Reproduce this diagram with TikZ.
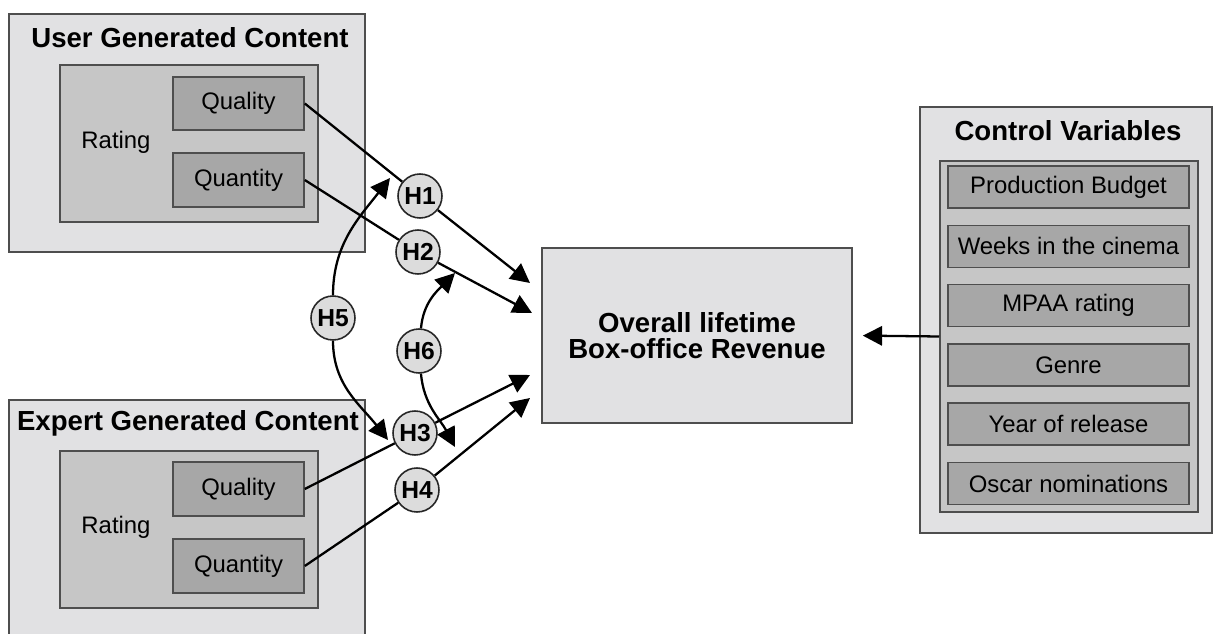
\documentclass[tikz,border=0pt]{standalone}
\usepackage{fontspec}
\setmainfont{Liberation Sans}
\usetikzlibrary{arrows.meta, positioning}

\definecolor{boxlight}{HTML}{E1E1E3}
\definecolor{boxmid}{HTML}{C6C6C6}
\definecolor{boxdark}{HTML}{A7A7A7}
\definecolor{edgegray}{HTML}{4E4E4E}
\definecolor{hypofill}{HTML}{DCDCDC}

\begin{document}
\begin{tikzpicture}[
  x=0.02cm, y=0.02cm,
  outer/.style={rectangle, draw=edgegray, line width=0.9pt, fill=boxlight, inner sep=0pt},
  inner/.style={rectangle, draw=edgegray, line width=0.9pt, fill=boxmid, inner sep=0pt},
  item/.style={rectangle, draw=edgegray, line width=0.9pt, fill=boxdark, inner sep=0pt, font=\fontsize{13.6}{16}\selectfont},
  heading/.style={font=\fontsize{15.7}{15}\selectfont\bfseries, inner sep=0pt},
  plain/.style={font=\fontsize{13.6}{16}\selectfont, inner sep=0pt},
  hypo/.style={circle, draw=black!85, line width=0.9pt, fill=hypofill, minimum size=0.88cm, inner sep=0pt, font=\fontsize{14}{16}\selectfont\bfseries},
  link/.style={line width=1.3pt},
  >={Triangle[length=11pt, width=11pt]}
]
  \clip (0,0) rectangle (1214,-634);

  % user generated content
  \node[outer, minimum width=7.12cm, minimum height=4.76cm] (ugc) at (187,-133) {};
  \node[heading] (ugctitle) at (190,-38) {User Generated Content};
  \node[inner, minimum width=5.16cm, minimum height=3.14cm] (ugcrate) at (189,-143.5) {};
  \node[plain] (ugcratelbl) at (116,-142) {Rating};
  \node[item, minimum width=2.62cm, minimum height=1.06cm] (ugcqual) at (238.5,-103.5) {Quality};
  \node[item, minimum width=2.62cm, minimum height=1.08cm] (ugcquan) at (238.5,-180) {Quantity};

  % expert generated content (runs off the bottom edge)
  \node[outer, minimum width=7.12cm, minimum height=5cm] (egc) at (187,-525) {};
  \node[heading] (egctitle) at (188,-423) {Expert Generated Content};
  \node[inner, minimum width=5.16cm, minimum height=3.14cm] (egcrate) at (189,-529.5) {};
  \node[plain] (egcratelbl) at (116,-527) {Rating};
  \node[item, minimum width=2.62cm, minimum height=1.08cm] (egcqual) at (238.5,-489) {Quality};
  \node[item, minimum width=2.62cm, minimum height=1.08cm] (egcquan) at (238.5,-566) {Quantity};

  % dependent variable
  \node[outer, heading, align=center, minimum width=6.2cm, minimum height=3.5cm] (rev) at (697,-335.5)
    {Overall lifetime\\Box-office Revenue};

  % control variables
  \node[outer, minimum width=5.84cm, minimum height=8.52cm] (ctrl) at (1066,-320) {};
  \node[heading] (ctrltitle) at (1068,-131) {Control Variables};
  \node[inner, minimum width=5.16cm, minimum height=7.02cm] (ctrlin) at (1069,-336.5) {};
  \foreach \lbl [count=\i from 0] in {Production Budget, Weeks in the cinema, MPAA rating, Genre, Year of release, Oscar nominations}
    \node[item, minimum width=4.82cm, minimum height=0.84cm] (cv\i) at (1068.5,{-187-59.3*\i}) {\lbl};

  % hypotheses
  \node[hypo] (h1) at (420,-196) {H1};
  \node[hypo] (h2) at (418,-252) {H2};
  \node[hypo] (h5) at (333,-318) {H5};
  \node[hypo] (h6) at (419,-351) {H6};
  \node[hypo] (h3) at (415,-433) {H3};
  \node[hypo] (h4) at (417,-490) {H4};

  \coordinate (t1) at (530,-283);
  \coordinate (t2) at (532,-313);
  \coordinate (t3) at (530,-375);
  \coordinate (t4) at (530,-398);
  \coordinate (h5up) at (390,-178);
  \coordinate (h5dn) at (388,-440);
  \coordinate (h6up) at (455,-273);
  \coordinate (h6dn) at (455,-447);

  \draw[link] (ugcqual.east) -- (h1);
  \draw[link, ->] (h1) -- (t1);
  \draw[link] (ugcquan.east) -- (h2);
  \draw[link, ->] (h2) -- (t2);
  \draw[link] (egcqual.east) -- (h3);
  \draw[link, ->] (h3) -- (t3);
  \draw[link] (egcquan.east) -- (h4);
  \draw[link, ->] (h4) -- (t4);

  % moderating effects
  \draw[link, ->] (h5) to[out=90, in=232] (h5up);
  \draw[link, ->] (h5) to[out=-90, in=128] (h5dn);
  \draw[link, ->] (h6) to[out=85, in=225] (h6up);
  \draw[link, ->] (h6) to[out=-85, in=118] (h6dn);

  \draw[link, ->, shorten >=5.7pt] (ctrlin.west) -- (rev.east);
\end{tikzpicture}
\end{document}
